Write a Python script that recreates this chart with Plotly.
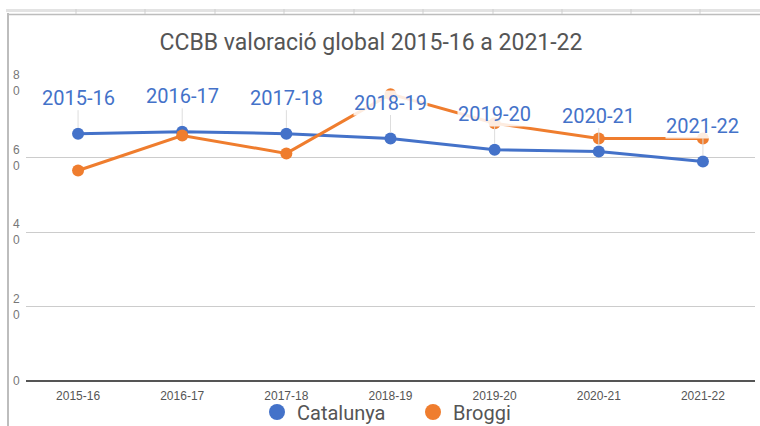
import plotly.graph_objects as go

categories = ["2015-16", "2016-17", "2017-18", "2018-19", "2019-20", "2020-21", "2021-22"]
catalunya = [66.4, 66.9, 66.4, 65.1, 62.1, 61.6, 58.9]
broggi = [56.5, 65.9, 61.1, 77.0, 69.2, 65.1, 65.1]
y_ticks = [0, 20, 40, 60, 80]
y_tick_text = ["0", "2<br>0", "4<br>0", "6<br>0", "8<br>0"]

BLUE = "#4472c9"
ORANGE = "#ef7d2e"

fig = go.Figure()
fig.add_trace(go.Scatter(x=categories, y=catalunya, mode="lines+markers", name="Catalunya",
                         line=dict(color=BLUE, width=3), marker=dict(size=12, color=BLUE),
                         showlegend=False, cliponaxis=False))
fig.add_trace(go.Scatter(x=categories, y=broggi, mode="lines+markers", name="Broggi",
                         line=dict(color=ORANGE, width=3), marker=dict(size=12, color=ORANGE),
                         showlegend=False, cliponaxis=False))
# legend-only entries
fig.add_trace(go.Scatter(x=[None], y=[None], mode="markers", name="Catalunya",
                         marker=dict(size=16, color=BLUE)))
fig.add_trace(go.Scatter(x=[None], y=[None], mode="markers", name="Broggi",
                         marker=dict(size=16, color=ORANGE)))

for c, v in zip(categories, catalunya):
    fig.add_annotation(x=c, y=v, text=c, showarrow=True, arrowhead=0, arrowwidth=1,
                       arrowcolor="#dddddd", ax=0, ay=-36, standoff=6,
                       font=dict(family="Roboto", size=20, color=BLUE),
                       bgcolor="rgba(255,255,255,0.85)", borderpad=0)

W, H = 760, 426
L, R, T, B = 26, 5, 83, 45
pw, ph = W - L - R, H - T - B
def px(xp):
    return (xp - L) / pw
def py(yp):
    return (H - B - yp) / ph

# y tick labels (split across two lines as in the original)
for tv, tt in zip(y_ticks, y_tick_text):
    fig.add_annotation(x=px(11), xref="paper", y=tv, yref="y", text=tt, showarrow=False,
                       xanchor="left", yanchor="middle", align="left",
                       font=dict(family="Liberation Sans", size=12, color="#777777"))

shapes = [
    dict(type="line", xref="paper", yref="paper", x0=px(8), x1=px(8), y0=py(13), y1=py(426),
         line=dict(color="#bdbdbd", width=2)),
    dict(type="line", xref="paper", yref="paper", x0=px(6), x1=px(760), y0=py(10.5), y1=py(10.5),
         line=dict(color="#e3e3e3", width=3)),
    dict(type="line", xref="paper", yref="paper", x0=px(8), x1=px(760), y0=py(14.5), y1=py(14.5),
         line=dict(color="#bdbdbd", width=1.5)),
]
for xt in [76, 145, 215, 284, 354, 423, 493, 562, 631, 700]:
    shapes.append(dict(type="line", xref="paper", yref="paper", x0=px(xt), x1=px(xt),
                       y0=py(9), y1=py(14), line=dict(color="#cfcfcf", width=1)))

fig.update_layout(
    width=W, height=H,
    margin=dict(l=L, r=R, t=T, b=B, autoexpand=False),
    paper_bgcolor="white", plot_bgcolor="white",
    font=dict(family="Roboto", color="#555555"),
    title=dict(text="CCBB valoració global 2015-16 a 2021-22", x=371 / W, xanchor="center",
               y=1 - 42 / H, yanchor="middle", font=dict(size=23, color="#555555")),
    xaxis=dict(type="category", showgrid=False, showline=False, zeroline=False,
               tickfont=dict(family="Liberation Sans", size=12, color="#555555"),
               ticks="", ticklabelstandoff=6, range=[-0.5, 6.5]),
    yaxis=dict(range=[0, 80], tickvals=y_ticks, showticklabels=False, showgrid=True,
               gridcolor="#cccccc", gridwidth=1, zeroline=True, zerolinecolor="#555555",
               zerolinewidth=2, showline=False, ticks=""),
    legend=dict(orientation="h", xref="container", yref="container", x=257 / W, xanchor="left",
                y=1 - 412 / H, yanchor="middle", entrywidth=111, entrywidthmode="pixels",
                bgcolor="rgba(0,0,0,0)", tracegroupgap=0,
                font=dict(size=20, color="#555555"), itemsizing="trace"),
    shapes=shapes,
    showlegend=True,
)

fig.write_html("out.html", config={"displayModeBar": False},
               post_script="document.body.style.margin='0';")
